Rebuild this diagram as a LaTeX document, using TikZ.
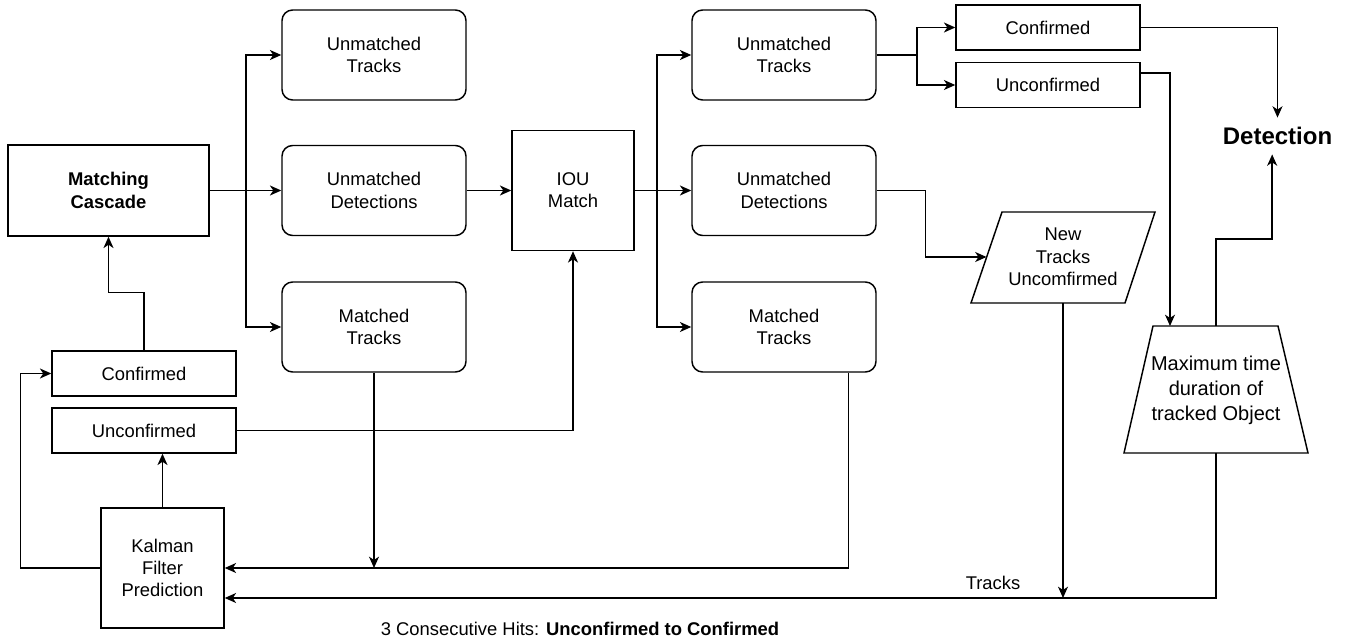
\documentclass[tikz,border=0pt]{standalone}
\usepackage{fontspec}
\setmainfont{Liberation Sans}
\usetikzlibrary{arrows.meta}
\newcommand\diafont{\fontsize{13.8}{16.75}\selectfont}
\begin{document}
\begin{tikzpicture}[x=0.75pt,y=-0.75pt,
  every node/.style={font=\diafont, align=center, inner sep=0pt},
  ln/.style={line width=1.1pt, draw=black},
  arr/.style={line width=1.1pt, -{Stealth[length=8.5pt,width=7.5pt,inset=2.5pt]}},
  rbox/.style={draw, line width=1.1pt, rounded corners=8pt, minimum width=138pt, minimum height=67.5pt},
  sbox/.style={draw, line width=1.1pt, minimum width=138pt, minimum height=33.75pt},
  bigbox/.style={draw, line width=1.1pt, minimum width=#1, minimum height=90pt},
  shapeline/.style={line width=1.1pt}]
\useasboundingbox (0,0) rectangle (1350,641);

% left column
\node[bigbox=150.75pt, minimum height=68.25pt, font=\diafont\bfseries] (mc) at (108.5,190.5) {Matching\\Cascade};
\node[sbox] (conf1) at (144,373.5) {Confirmed};
\node[sbox] (unc1) at (144,430.5) {Unconfirmed};
\node[bigbox=92.25pt] (kal) at (162.5,568) {Kalman\\Filter\\Prediction};

% first column of results
\node[rbox] (ut1) at (374,55) {Unmatched\\Tracks};
\node[rbox] (ud1) at (374,190.5) {Unmatched\\Detections};
\node[rbox] (mt1) at (374,327) {Matched\\Tracks};

\node[bigbox=91.5pt] (iou) at (573,190.5) {IOU\\Match};

% second column of results
\node[rbox] (ut2) at (784,55) {Unmatched\\Tracks};
\node[rbox] (ud2) at (784,190.5) {Unmatched\\Detections};
\node[rbox] (mt2) at (784,327) {Matched\\Tracks};

\node[sbox] (conf2) at (1048,27.5) {Confirmed};
\node[sbox] (unc2) at (1048,85) {Unconfirmed};

\node[font=\fontsize{18}{21}\selectfont\bfseries, inner sep=7pt] (det) at (1277.5,136) {Detection};

% parallelogram
\draw[shapeline] (1002,212) -- (1155,212) -- (1125,303) -- (971,303) -- cycle;
\node (newtr) at (1063,257) {New\\Tracks\\Uncomfirmed};
\coordinate (newtrW) at (986.5,257);
\coordinate (newtrS) at (1063,303);

% trapezoid
\draw[shapeline] (1153,326) -- (1278,326) -- (1308,453) -- (1124,453) -- cycle;
\node[font=\fontsize{15}{18.75}\selectfont] (maxt) at (1216,390) {Maximum time\\duration of\\tracked Object};
\coordinate (trapN) at (1216,326);
\coordinate (trapNW) at (1170,326);
\coordinate (trapS) at (1216,453);

% connectors: matching cascade
\coordinate (b1) at (246,190.5);
\draw[arr] (mc.east) -- (ud1.west);
\draw[arr] (b1) |- (ut1.west);
\draw[arr] (b1) |- (mt1.west);
\draw[arr] (ud1.east) -- (iou.west);

% IOU outputs
\coordinate (b2) at (657,190.5);
\draw[arr] (iou.east) -- (ud2.west);
\draw[arr] (b2) |- (ut2.west);
\draw[arr] (b2) |- (mt2.west);

% unmatched tracks 2
\coordinate (b3) at (917,55);
\draw[ln] (ut2.east) -- (b3);
\draw[arr] (b3) |- (conf2.west);
\draw[arr] (b3) |- (unc2.west);

\draw[arr] (conf2.east) -| (det.north);
\draw[arr] ([yshift=9pt]unc2.east) -| (trapNW);
\draw[arr] (trapN) -- ++(0,-87) -| ([xshift=-4pt]det.south);

% new tracks
\draw[arr] (ud2.east) -- ++(49,0) |- (newtrW);
\coordinate (j1) at (1063,598);
\draw[arr] (newtrS) -- (j1);
\draw[arr] (trapS) |- ([yshift=-22.5pt]kal.east);
\node (trk) at (993,583) {Tracks};

% matched tracks back to Kalman
\coordinate (j2) at (374,568);
\draw[arr] (mt1.south) -- (j2);
\draw[arr] ([xshift=-21pt]mt2.south east) |- (kal.east);

% Kalman outputs
\draw[arr] (kal.north) -- (kal.north |- unc1.south);
\draw[arr] (kal.west) -- ++(-80,0) |- (conf1.west);
\draw[arr] (unc1.east) -| (iou.south);
\draw[arr] (conf1.north) -- ++(0,-58) -| (mc.south);

\node (note) at (580,629) {3 Consecutive Hits: \textbf{Unconfirmed to Confirmed}};
\end{tikzpicture}
\end{document}
